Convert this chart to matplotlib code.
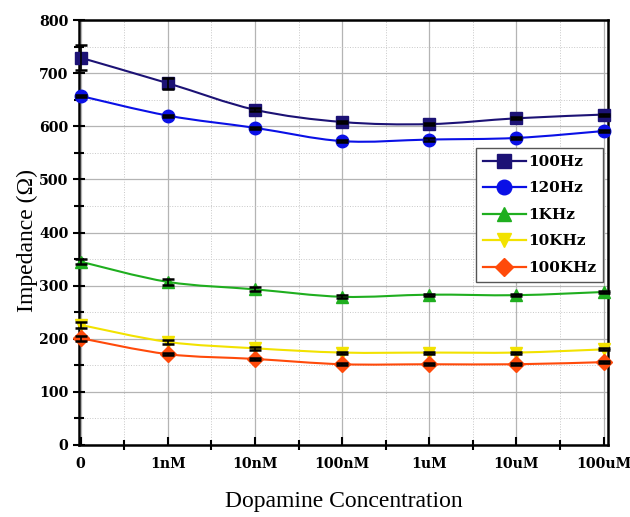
import matplotlib
matplotlib.use("Agg")
import matplotlib.pyplot as plt
import numpy as np
from matplotlib.path import Path
from matplotlib.patches import PathPatch
from matplotlib.lines import Line2D
from matplotlib.ticker import MultipleLocator

concentrations = ["0", "1nM", "10nM", "100nM", "1uM", "10uM", "100uM"]

imp_100hz = [729, 681, 631, 608, 604, 615, 622]
imp_120hz = [657, 620, 597, 572, 575, 578, 591]
imp_1khz = [345, 307, 293, 279, 283, 282, 288]
imp_10khz = [226, 194, 182, 174, 174, 174, 180]
imp_100khz = [201, 171, 162, 152, 152, 152, 156]

err_100hz = [24, 10, 3, 2, 2, 2, 2]
err_120hz = [2, 2, 2, 2, 2, 2, 2]
err_1khz = [5, 5, 4, 3, 2, 2, 2]
err_10khz = [6, 3, 3, 2, 2, 2, 2]
err_100khz = [5, 2, 2, 2, 2, 2, 2]

series = [
    ("100Hz", imp_100hz, err_100hz, "#1c1275", "s", 8),
    ("120Hz", imp_120hz, err_120hz, "#0a10e6", "o", 9),
    ("1KHz", imp_1khz, err_1khz, "#1fae1f", "^", 9),
    ("10KHz", imp_10khz, err_10khz, "#f2e200", "v", 9),
    ("100KHz", imp_100khz, err_100khz, "#ff4a0a", "D", 8),
]


def smooth_path(x, y):
    """Catmull-Rom style bezier path through the points."""
    x = np.asarray(x, float)
    y = np.asarray(y, float)
    verts = [(x[0], y[0])]
    codes = [Path.MOVETO]
    n = len(x)
    for i in range(n - 1):
        i0 = max(i - 1, 0)
        i3 = min(i + 2, n - 1)
        c1 = (x[i] + (x[i + 1] - x[i0]) / 6, y[i] + (y[i + 1] - y[i0]) / 6)
        c2 = (x[i + 1] - (x[i3] - x[i]) / 6, y[i + 1] - (y[i3] - y[i]) / 6)
        verts += [c1, c2, (x[i + 1], y[i + 1])]
        codes += [Path.CURVE4] * 3
    return Path(verts, codes)


plt.rcParams["font.family"] = ["Liberation Serif", "DejaVu Serif"]
bold_font = {"family": "DejaVu Serif", "weight": "bold"}

fig = plt.figure(figsize=(6.3, 5.17), dpi=100)
ax = fig.add_axes([79 / 630, 72 / 517, 529 / 630, 425 / 517])

xs = np.arange(len(concentrations))
handles = []
for name, vals, errs, color, marker, ms in series:
    ax.add_patch(PathPatch(smooth_path(xs, vals), facecolor="none",
                           edgecolor=color, lw=1.5, zorder=3))
    ax.plot(xs, vals, ls="none", marker=marker, ms=ms, color=color,
            markeredgecolor=color, zorder=4, clip_on=False)
    ax.errorbar(xs, vals, yerr=errs, fmt="none", ecolor="black",
                elinewidth=1.2, capsize=4.5, capthick=1.8, zorder=5,
                clip_on=False)
    handles.append(Line2D([], [], color=color, lw=1.6, marker=marker,
                          ms=ms + 1.5, markeredgecolor=color, label=name))

ax.set_xlim(-0.02, 6.05)
ax.set_ylim(0, 800)
ax.set_xticks(xs)
ax.set_xticklabels(concentrations)
ax.xaxis.set_minor_locator(MultipleLocator(0.5))
ax.yaxis.set_major_locator(MultipleLocator(100))
ax.yaxis.set_minor_locator(MultipleLocator(50))

ax.grid(which="major", color="#b4b4b4", lw=0.9)
ax.grid(which="minor", color="#c8c8c8", lw=0.7, ls=":")
ax.set_axisbelow(True)

ax.tick_params(which="major", direction="in", length=6, width=1.5)
ax.tick_params(axis="y", which="major", direction="inout", length=8)
ax.tick_params(which="minor", direction="inout", length=7, width=1.5)
for lab in ax.get_xticklabels() + ax.get_yticklabels():
    lab.set_fontfamily(bold_font["family"])
    lab.set_fontweight("bold")
    lab.set_fontsize(10.2)
ax.tick_params(axis="x", pad=9)

for sp in ax.spines.values():
    sp.set_linewidth(1.8)

ax.set_xlabel("Dopamine Concentration", fontsize=17, labelpad=14)
ax.set_ylabel("Impedance (Ω)", fontsize=17)
ax.yaxis.set_label_coords(-0.077, 0.48)

leg = ax.legend(handles=handles, loc="upper left",
                bbox_to_anchor=(397 / 529, 1 - 128 / 425),
                prop={**bold_font, "size": 11}, fancybox=False,
                edgecolor="#555555", framealpha=1, borderpad=0.45,
                labelspacing=0.82, handlelength=2.8, handletextpad=0.15,
                borderaxespad=0)
leg.get_frame().set_linewidth(1.0)

fig.savefig("out.png", dpi=100)
